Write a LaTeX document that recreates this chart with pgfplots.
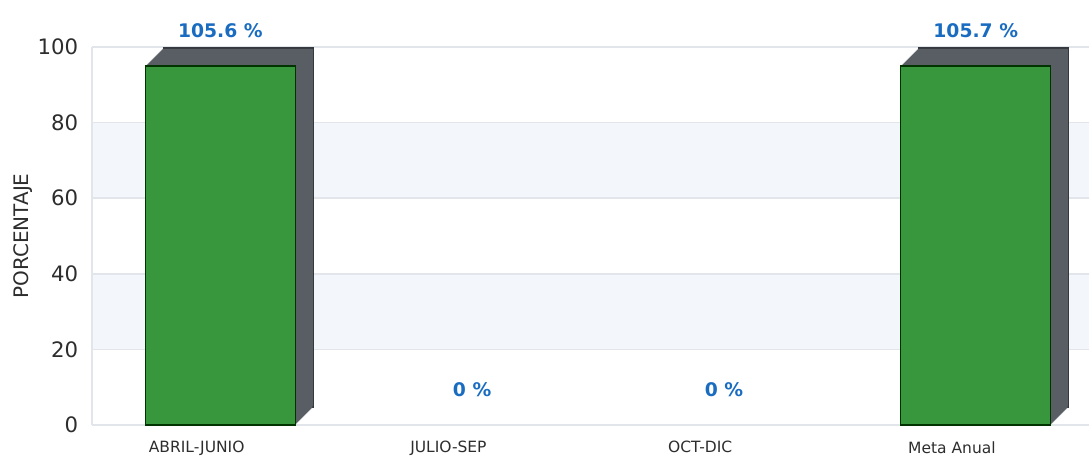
\documentclass[border=0pt]{standalone}
\usepackage{fontspec}
\setmainfont{DejaVu Sans}
\usepackage{pgfplots}
\pgfplotsset{compat=1.18}
\usepackage{pgfplotstable}

\definecolor{barfront}{RGB}{56,150,60}
\definecolor{barside}{RGB}{88,94,100}
\definecolor{bandfill}{RGB}{243,246,250}
\definecolor{gridgray}{RGB}{226,229,234}
\definecolor{labelblue}{RGB}{26,108,192}
\definecolor{tickgray}{RGB}{45,45,45}

% h = altura dibujada de la barra, pct = valor de la etiqueta
\pgfplotstableread{
x h pct
0 95 105.6
1 0 0
2 0 0
3 95 105.7
}\datos

\pgfplotsset{set layers}

\begin{document}
\begin{tikzpicture}
\begin{axis}[
    scale only axis,
    width=398.8pt, height=151.2pt,
    xmin=-0.51, xmax=3.45,
    ymin=0, ymax=100,
    clip=false,
    axis x line*=bottom, axis y line*=left,
    axis line style={gridgray, line width=0.6pt},
    xtick={0,1,2,3},
    xticklabels={ABRIL-JUNIO,JULIO-SEP,OCT-DIC,Meta Anual},
    ytick={0,20,...,100},
    major tick length=0pt,
    ymajorgrids,
    grid style={gridgray, line width=0.6pt},
    /pgf/number format/assume math mode=true,
    yticklabel style={font=\fontsize{8.5}{10}\selectfont, text=tickgray, xshift=-2pt},
    xticklabel style={font=\fontsize{6.2}{7}\selectfont, text=tickgray, xshift=-9.5pt, yshift=-3pt},
    ylabel={PORCENTAJE},
    ylabel style={font=\fontsize{8}{10}\selectfont, text=tickgray,
        at={(axis description cs:-0.069,0.5)}, anchor=center},
    bar3d/.style={ybar, bar width=60pt, bar shift=0pt, restrict y to domain=1:200},
]
\begin{pgfonlayer}{axis background}
\fill[bandfill] (axis cs:-0.51,20) rectangle (axis cs:3.45,40);
\fill[bandfill] (axis cs:-0.51,60) rectangle (axis cs:3.45,80);
\end{pgfonlayer}

% cuerpo 3D: copias desplazadas de las barras
\addplot[bar3d, fill=barside, draw=barside!60!black, line width=0.5pt,
    xshift=7.2pt, yshift=7.2pt]
    table[x=x, y=h] {\datos};
\pgfplotsinvokeforeach{17,16,...,1}{
\addplot[bar3d, fill=barside, draw=none,
    xshift=#1*0.4pt, yshift=#1*0.4pt]
    table[x=x, y=h] {\datos};
}
\addplot[bar3d, fill=barfront, draw=black!80!green, line width=0.6pt]
    table[x=x, y=h] {\datos};

% etiquetas
\addplot[draw=none, mark=none, point meta=explicit,
    nodes near coords={\pgfmathprintnumber{\pgfplotspointmeta}\ \%},
    nodes near coords align={center},
    every node near coord/.append style={yshift=14.2pt,
        font=\bfseries\fontsize{7.5}{9}\selectfont, text=labelblue}]
    table[x=x, y=h, meta=pct] {\datos};
\end{axis}
\pgfresetboundingbox
\path (-36.8pt,-12.8pt) rectangle (398.8pt,170pt);
\end{tikzpicture}
\end{document}
